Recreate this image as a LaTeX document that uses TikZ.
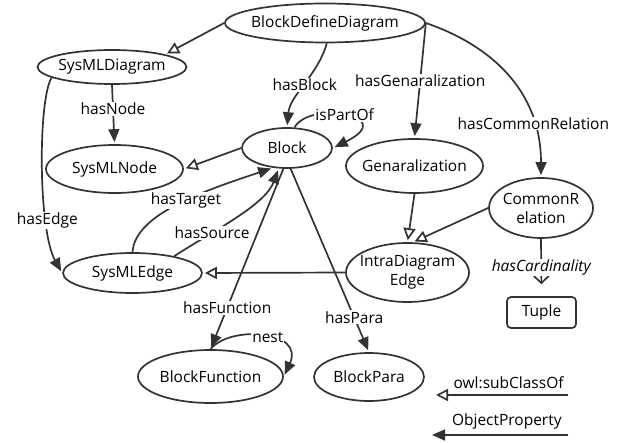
\documentclass[tikz,border=0pt]{standalone}
\usepackage{fontspec}
\setmainfont{Open Sans}
\usetikzlibrary{arrows.meta,shapes.geometric}
\definecolor{ln}{HTML}{333333}
\newcommand{\zb}[1]{\makebox[0pt][c]{#1}}
\begin{document}
\begin{tikzpicture}[x=1pt,y=1pt,
  font=\fontsize{15.5}{19}\selectfont,
  cls/.style={ellipse, draw=ln, line width=1.7pt, inner sep=0pt, align=center},
  sub/.style={draw=ln, line width=1.7pt, -{Triangle[open, length=12pt, width=12pt]}, shorten >=2pt},
  obj/.style={draw=ln, line width=1.7pt, -{Triangle[length=13pt, width=11pt]}, shorten >=2pt},
  lbl/.style={fill=white, inner sep=1pt, text=black}
]
\useasboundingbox (0,0) rectangle (626,-443);
% nodes
\node[cls, minimum width=200, minimum height=39] (bdd) at (325,-23) {\zb{BlockDefineDiagram}};
\node[cls, minimum width=149, minimum height=34] (sysd) at (112,-67) {\zb{SysMLDiagram}};
\node[cls, minimum width=137, minimum height=48] (sysn) at (114.5,-169) {\zb{SysMLNode}};
\node[cls, minimum width=90, minimum height=40] (block) at (287,-148) {\zb{Block}};
\node[cls, minimum width=137, minimum height=54] (gen) at (414.5,-166) {\zb{Genaralization}};
\node[cls, minimum width=104, minimum height=60] (cr) at (541,-208) {\zb{CommonR}\\\zb{elation}};
\node[cls, minimum width=123, minimum height=59] (ide) at (407.5,-272.5) {\zb{IntraDiagram}\\\zb{Edge}};
\node[draw=ln, line width=1.7pt, rounded corners=4pt, minimum width=69, minimum height=31, inner sep=0pt] (tuple) at (541.5,-312.5) {Tuple};
\node[cls, minimum width=139, minimum height=40] (sedge) at (132.5,-273) {\zb{SysMLEdge}};
\node[cls, minimum width=145, minimum height=53] (bf) at (210.5,-376.5) {\zb{BlockFunction}};
\node[cls, minimum width=110, minimum height=48] (bp) at (369,-377) {\zb{BlockPara}};
% subclass edges
\draw[sub] (bdd.west) -- (sysd.north east);
\draw[sub] (block.west) -- (sysn.east);
\draw[sub] (gen.south) -- (ide.north);
\draw[sub] (cr.west) -- (ide.80);
\draw[sub] (ide.west) -- (sedge.east);
% object properties
\draw[obj] (bdd.-85) .. controls (318,-75) and (290,-95) .. node[lbl, pos=0.5] {hasBlock} (block.north);
\draw[obj] (block.70) .. controls (310,-100) and (400,-115) .. node[lbl, pos=0.5] {isPartOf} (block.east);
\draw[obj] (bdd.east) -- node[lbl, pos=0.5] {hasGenaralization} (gen.north);
\draw[obj] (bdd.east) .. controls (490,-45) and (541,-90) .. node[lbl, pos=0.77] {hasCommonRelation} (cr.north);
\draw[obj] (sysd.south) -- node[lbl, pos=0.4] {hasNode} (sysn.north);
\draw[obj] (sysd.190) .. controls (38,-100) and (38,-230) .. node[lbl, pos=0.72] {hasEdge} (sedge.west);
\draw[obj] (sedge.north) .. controls (135,-215) and (200,-192) .. node[lbl, pos=0.56] {hasTarget} (block.-125);
\draw[obj] (sedge.22) .. controls (215,-230) and (265,-205) .. node[lbl, pos=0.3] {hasSource} (block.-112);
\draw[obj] (block.-100) -- node[lbl, pos=0.77] {hasFunction} (bf.north);
\draw[obj] (bf.north) .. controls (230,-325) and (305,-330) .. node[lbl, pos=0.55] {nest} (bf.east);
\draw[obj] (block.-80) -- node[lbl, pos=0.81] {hasPara} (bp.north);
\draw[draw=ln, line width=1.7pt, -{Straight Barb[length=7pt, width=15pt]}, shorten >=12pt] (cr.south) -- node[lbl, pos=0.5, font=\fontsize{15.5}{19}\selectfont\itshape] {hasCardinality} (tuple.north);
% legend
\coordinate (l1a) at (568,-395);
\coordinate (l1b) at (436,-395);
\coordinate (l2a) at (568,-435);
\coordinate (l2b) at (432,-435);
\draw[sub, shorten >=0pt] (l1a) -- node[above=2pt, pos=0.45, text=black] {owl:subClassOf} (l1b);
\draw[obj, shorten >=0pt] (l2a) -- node[above=2pt, pos=0.45, text=black] {ObjectProperty} (l2b);
\end{tikzpicture}
\end{document}
